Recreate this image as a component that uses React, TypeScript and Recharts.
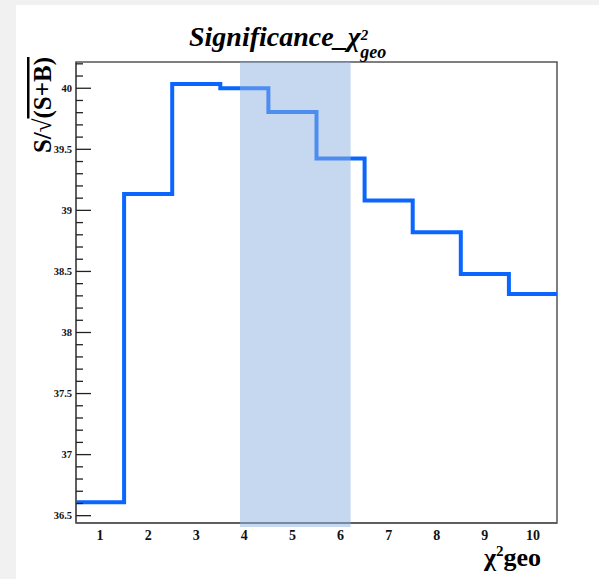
import React from 'react';
import { LineChart, Line, XAxis, YAxis, ReferenceArea } from 'recharts';

// chi2_geo bins and S/sqrt(S+B) per bin
const binCenters = [1, 2, 3, 4, 5, 6, 7, 8, 9, 10];
const significance = [36.61, 39.135, 40.035, 40.0, 39.805, 39.425, 39.08, 38.82, 38.48, 38.315];
const xTicks = [1, 2, 3, 4, 5, 6, 7, 8, 9, 10];
const selectedRange = [3.91, 6.21];

const binWidth = 1;
const stepData = binCenters.map((c, i) => ({ x: c - binWidth / 2, v: significance[i] }));
stepData.push({ x: binCenters[binCenters.length - 1] + binWidth / 2, v: significance[significance.length - 1] });

const yDomain = [36.44, 40.215];
const yTicks: number[] = [];
for (let t = 36.5; t <= 40.2001; t += 0.1) yTicks.push(Math.round(t * 10) / 10);

const FONT = '"Liberation Serif", "Times New Roman", serif';

const YTick = (props: any) => {
  const { x, y, payload } = props;
  const v = payload.value;
  const major = Math.abs(v * 2 - Math.round(v * 2)) < 1e-6;
  return (
    <g>
      <line x1={x} x2={x + (major ? 15 : 7)} y1={y} y2={y} stroke="#222" strokeWidth={1.3} />
      {major && (
        <text x={x - 4} y={y + 3.5} textAnchor="end" fontFamily={FONT} fontWeight="bold" fontSize={10.5} fill="#111">
          {v}
        </text>
      )}
    </g>
  );
};

const XTick = (props: any) => {
  const { x, y, payload } = props;
  return (
    <text x={x} y={y + 16.5} textAnchor="middle" fontFamily={FONT} fontWeight="bold" fontSize={14} fill="#111">
      {payload.value}
    </text>
  );
};

export default function App() {
  return (
    <div style={{ position: 'absolute', left: 0, top: 0, width: 599, height: 579, background: '#f1f1f1' }}>
      <div style={{ position: 'absolute', left: 16, top: 5, right: 0, bottom: 0, background: '#fff' }} />
      <div style={{ position: 'absolute', left: 0, top: 0 }}>
        <LineChart width={599} height={579} data={stepData} margin={{ top: 62, right: 42, bottom: 0, left: 0 }}>
          <XAxis
            dataKey="x"
            type="number"
            domain={[0.5, 10.5]}
            ticks={xTicks}
            allowDataOverflow
            height={56}
            tickSize={0}
            tickMargin={0}
            tickLine={false}
            axisLine={{ stroke: '#555', strokeWidth: 1.5 }}
            tick={<XTick />}
            interval={0}
          />
          <YAxis
            type="number"
            domain={yDomain}
            ticks={yTicks}
            allowDataOverflow
            width={76}
            tickSize={0}
            tickMargin={0}
            tickLine={false}
            axisLine={{ stroke: '#555', strokeWidth: 1.5 }}
            tick={<YTick />}
            interval={0}
          />
          <ReferenceArea x1={0.5} x2={10.5} y1={yDomain[0]} y2={yDomain[1]} fill="none" stroke="#555" strokeWidth={1.5} />
          <Line
            type="stepAfter"
            dataKey="v"
            stroke="#0a66ff"
            strokeWidth={4}
            dot={false}
            activeDot={false}
            isAnimationActive={false}
          />
          <ReferenceArea
            x1={selectedRange[0]}
            x2={selectedRange[1]}
            y1={36.407}
            y2={yDomain[1]}
            ifOverflow="visible"
            fill="#90b3e0"
            fillOpacity={0.51}
            stroke="none"
            zIndex={2000}
          />
        </LineChart>
      </div>
      <svg width={599} height={579} style={{ position: 'absolute', left: 0, top: 0, pointerEvents: 'none' }}>
        <g fontFamily={FONT} fontWeight="bold" fill="#000">
          <text x={189} y={46} fontSize={28} fontStyle="italic">
            Significance_χ
            <tspan dy={-6} fontSize={15}>2</tspan>
            <tspan dx={-8} dy={18} fontSize={18}>geo</tspan>
          </text>
          <text x={541} y={566} fontSize={26} textAnchor="end">
            χ<tspan dy={-10} fontSize={15}>2</tspan>
            <tspan dy={10}>geo</tspan>
          </text>
          <g transform="translate(51,57) rotate(-90)">
            <text x={0} y={0} fontSize={25} textAnchor="end">
              S/√<tspan textDecoration="overline">(S+B)</tspan>
            </text>
          </g>
        </g>
      </svg>
    </div>
  );
}
